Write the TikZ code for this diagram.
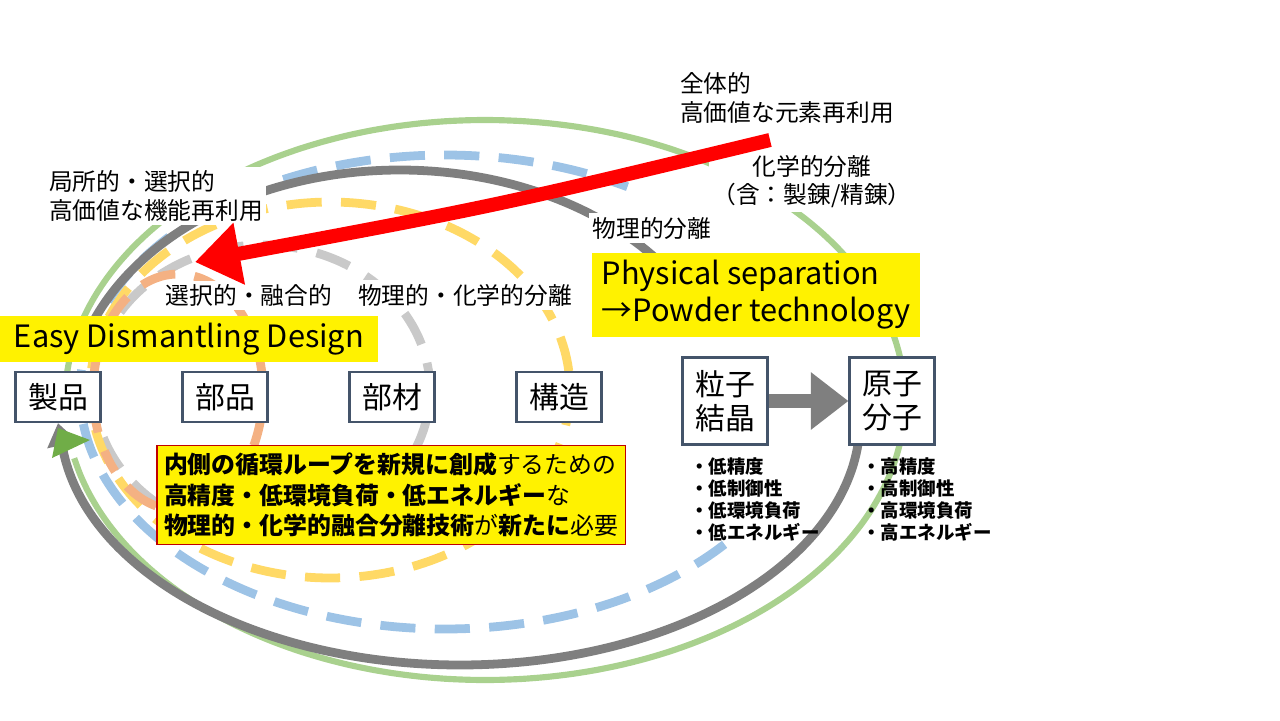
\documentclass[tikz,border=0pt]{standalone}
\usepackage{fontspec}
\setmainfont{Noto Sans CJK JP}
\usetikzlibrary{arrows.meta}
\definecolor{loopgreen}{HTML}{A9D18E}
\definecolor{arrowgreen}{HTML}{70AD47}
\definecolor{loopgray}{HTML}{7F7F7F}
\definecolor{loopblue}{HTML}{9DC3E6}
\definecolor{loopyellow}{HTML}{FFD966}
\definecolor{looplight}{HTML}{C9C9C9}
\definecolor{looporange}{HTML}{F4B183}
\definecolor{boxedge}{HTML}{44546A}
\definecolor{notered}{HTML}{C00000}
\tikzset{
  part/.style={draw=boxedge, line width=1.2pt, fill=white, minimum width=1.7cm,
    minimum height=1cm, inner sep=1pt, font=\fontsize{17}{19}\selectfont},
  tallpart/.style={part, minimum height=1.74cm, align=center},
  label/.style={fill=white, inner sep=2pt, align=left, font=\fontsize{13.5}{16}\selectfont},
  banner/.style={fill=yellow, inner sep=4pt, align=left, font=\fontsize{17.5}{21}\selectfont},
  traits/.style={anchor=north west, align=left, inner sep=0pt, font=\bfseries\fontsize{10.5}{12.5}\selectfont},
  dashloop/.style={line width=5pt, dash pattern=on 20pt off 11pt},
}
\begin{document}
\begin{tikzpicture}[x=0.02cm, y=-0.02cm]
  \useasboundingbox (0,0) rectangle (1280,720);
  % loops
  \draw[loopgreen, line width=3.5pt] plot[domain=-175:168, samples=100, smooth]
    ({485+420*cos(\x)},{400+280*sin(\x)});
  \draw[looplight, dashloop] plot[domain=-190:170, samples=80, smooth]
    ({262+168*cos(\x)},{390+145*sin(\x)});
  \draw[loopyellow, dashloop] plot[domain=-190:170, samples=90, smooth]
    ({330+240*cos(\x)},{390+188*sin(\x)});
  \draw[loopblue, dashloop] plot[domain=40:300, samples=100, smooth]
    ({445+365*cos(\x)},{392+237*sin(\x)});
  \draw[looporange, dashloop] plot[domain=-200:150, samples=60, smooth]
    ({178+85*cos(\x)},{392+118*sin(\x)});
  \draw[loopgray, line width=5pt, -{Triangle[length=0.45cm, width=0.6cm]}]
    plot[domain=192:342, samples=80, smooth] ({400+330*cos(\x)},{410+240*sin(\x)});
  \draw[loopgray, line width=5pt] plot[domain=5:176, samples=90, smooth]
    ({460+400*cos(\x)},{420+245*sin(\x)});
  % labels
  \node[label] (local) at (156,196) {局所的・選択的\\高価値な機能再利用};
  \node[label] (whole) at (787,98) {全体的\\高価値な元素再利用};
  \node[label, align=center] (chem) at (812,182) {化学的分離\\（含：製錬/精錬）};
  \node[label] (phys) at (652,228) {物理的分離};
  \node[label] (fuse) at (249,295) {選択的・融合的};
  \node[label] (physchem) at (465,295) {物理的・化学的分離};
  \node[banner, minimum width=7.56cm, minimum height=0.84cm] (easy) at (189,339) {Easy Dismantling Design};
  \node[banner, minimum width=6.56cm, minimum height=1.6cm] (powder) at (756,295) {Physical separation\\→Powder technology};
  % parts
  \node[part] (product) at (58,397) {製品};
  \node[part] (component) at (225,397) {部品};
  \node[part] (material) at (392,397) {部材};
  \node[part] (structure) at (559,397) {構造};
  \node[tallpart] (particle) at (725,401) {粒子\\結晶};
  \node[tallpart] (atom) at (892,401) {原子\\分子};
  % arrows into the product
  \draw[loopgray, line width=5pt, -{Triangle[length=0.45cm, width=0.6cm]}]
    ({460+400*cos(176)},{420+245*sin(176)}) -- (product.south);
  \fill[arrowgreen] (52,458) -- (58,428) -- (90,440) -- cycle;
  \draw[loopgray, line width=8pt, -{Triangle[length=0.75cm, width=1.1cm]}]
    (particle.east) -- (atom.west);
  % red arrow
  \coordinate (redstart) at (770,140);
  \draw[red, line width=8pt, -{Triangle[length=0.9cm, width=1.2cm]}]
    (redstart) .. controls (500,205) .. (195,262);
  % traits
  \node[traits] (lowtraits) at (690,457) {・低精度\\・低制御性\\・低環境負荷\\・低エネルギー};
  \node[traits] (hightraits) at (862,457) {・高精度\\・高制御性\\・高環境負荷\\・高エネルギー};
  % note
  \node[fill=yellow, draw=notered, line width=0.6pt, align=left, inner sep=4pt,
    font=\fontsize{13.6}{17.5}\selectfont] (note) at (391,495)
    {\textbf{内側の循環ループを新規に創成}するための\\
     \textbf{高精度・低環境負荷・低エネルギー}な\\
     \textbf{物理的・化学的融合分離技術}が\textbf{新たに}必要};
\end{tikzpicture}
\end{document}
